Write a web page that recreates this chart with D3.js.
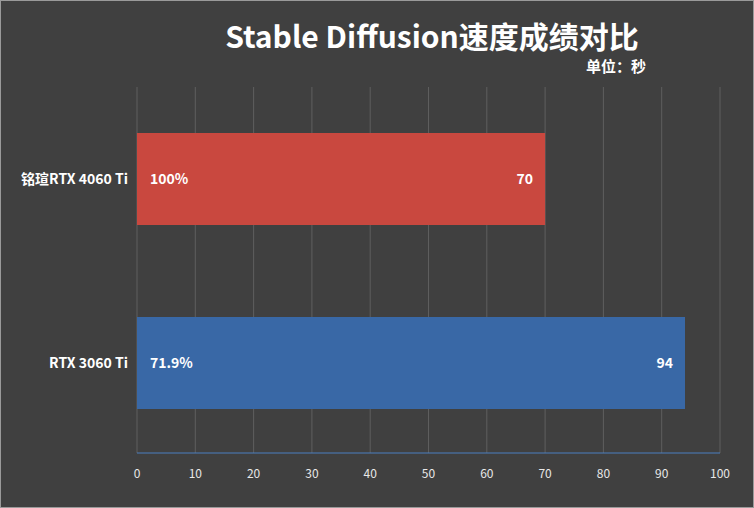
<!DOCTYPE html>
<html><head><meta charset="utf-8">
<script src="https://cdn.jsdelivr.net/npm/d3@7"></script>
<style>body{margin:0;background:#404040}</style></head>
<body><svg id="c" width="754" height="508"></svg>
<script>
const categories = ["铭瑄RTX 4060 Ti", "RTX 3060 Ti"];
const values = [70, 94];
const percents = ["100%", "71.9%"];
const colors = ["#c9483f", "#3968a6"];
const ticks = [0,10,20,30,40,50,60,70,80,90,100];

const svg = d3.select("#c");
const font = "'Noto Sans CJK SC','DejaVu Sans',sans-serif";
svg.append("rect").attr("x",0.5).attr("y",0.5).attr("width",753).attr("height",507)
  .attr("fill","#404040").attr("stroke","#9a9a9a");
const x = d3.scaleLinear().domain([0,100]).range([137,720]);
const y = d3.scaleBand().domain(categories).range([87,455]).padding(0.5).paddingOuter(0.25);
svg.selectAll(".g").data(ticks).join("line")
  .attr("x1",d=>x(d)).attr("x2",d=>x(d)).attr("y1",87).attr("y2",453)
  .attr("stroke","#5e5e5e").attr("stroke-width",1);
svg.append("line").attr("x1",x(0)).attr("x2",x(100)).attr("y1",453).attr("y2",453)
  .attr("stroke","#4a7fc0").attr("stroke-width",1);
svg.selectAll(".t").data(ticks).join("text")
  .attr("x",d=>x(d)).attr("y",478).attr("text-anchor","middle")
  .attr("fill","#e8e8e8").attr("font-size",12).attr("font-family",font).text(d=>d);
svg.selectAll(".b").data(values).join("rect")
  .attr("x",x(0)).attr("y",(d,i)=>y(categories[i])).attr("width",d=>x(d)-x(0))
  .attr("height",y.bandwidth()).attr("fill",(d,i)=>colors[i]);
svg.selectAll(".v").data(values).join("text")
  .attr("x",d=>x(d)-12).attr("y",(d,i)=>y(categories[i])+y.bandwidth()/2+5)
  .attr("text-anchor","end").attr("fill","#fff").attr("font-weight","bold")
  .attr("font-size",14).attr("font-family",font).text(d=>d);
svg.selectAll(".p").data(percents).join("text")
  .attr("x",x(0)+13).attr("y",(d,i)=>y(categories[i])+y.bandwidth()/2+5)
  .attr("fill","#fff").attr("font-weight","bold")
  .attr("font-size",14).attr("font-family",font).text(d=>d);
svg.selectAll(".c").data(categories).join("text")
  .attr("x",128).attr("y",d=>y(d)+y.bandwidth()/2+5)
  .attr("text-anchor","end").attr("fill","#fff").attr("font-weight","bold")
  .attr("font-size",14).attr("font-family",font).text(d=>d);
svg.append("text").attr("x",432).attr("y",48).attr("text-anchor","middle")
  .attr("fill","#fff").attr("font-weight","bold").attr("font-size",30)
  .attr("font-family",font).text("Stable Diffusion速度成绩对比");
svg.append("text").attr("x",586).attr("y",72)
  .attr("fill","#fff").attr("font-weight","bold").attr("font-size",15)
  .attr("font-family",font).text("单位：秒");
</script></body></html>
